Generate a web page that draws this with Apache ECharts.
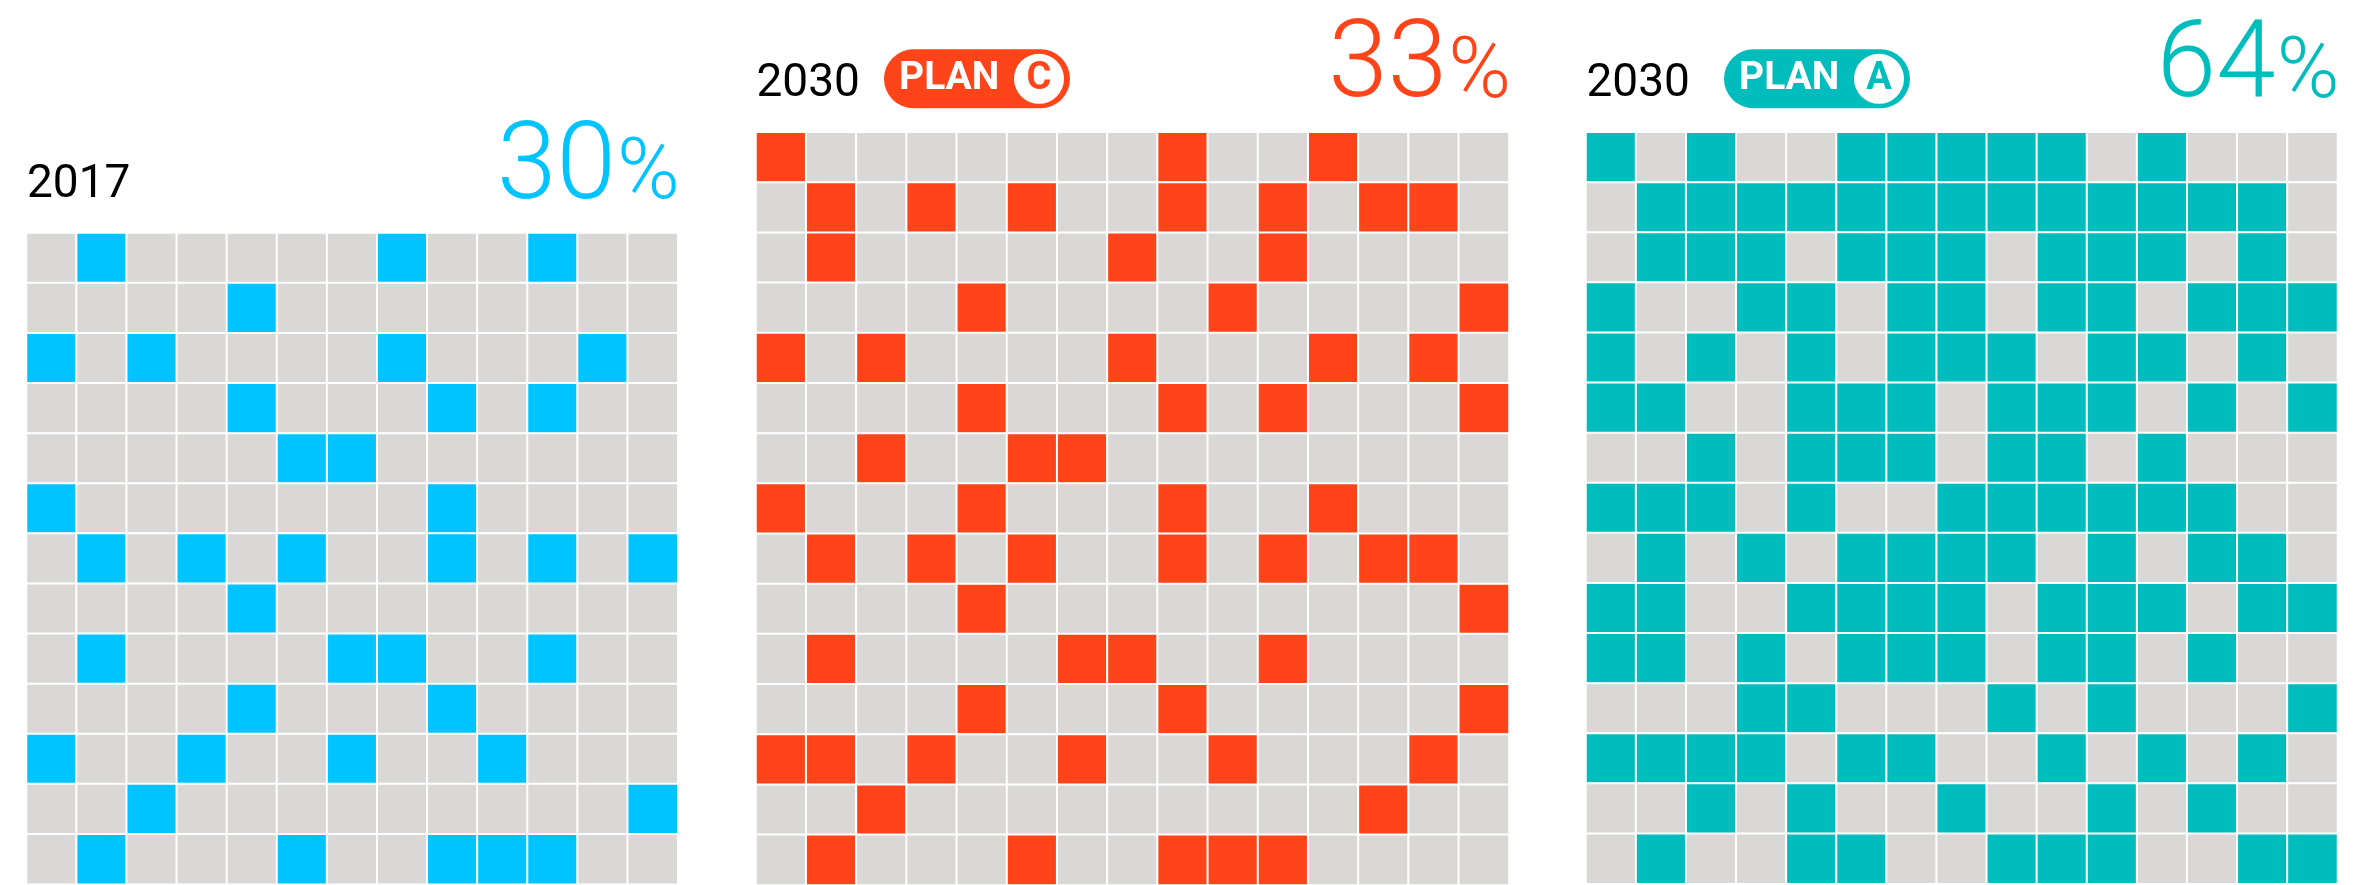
<!DOCTYPE html>
<html>
<head>
<meta charset="utf-8">
<title>Share of filled cells, 2017 vs 2030 plans</title>
<style>
  html, body { margin: 0; padding: 0; background: #ffffff; }
  #chart { width: 2361px; height: 885px; }
</style>
<script src="https://cdn.jsdelivr.net/npm/echarts@6/dist/echarts.min.js"></script>
</head>
<body>
<div id="chart"></div>
<script>
// ---- data -------------------------------------------------------------
// Filled cells of each panel, one list of column indices per row (top row first)
const cells2017 = [
  [1, 7, 10], [4], [0, 2, 7, 11], [4, 8, 10], [5, 6], [0, 8],
  [1, 3, 5, 8, 10, 12], [4], [1, 6, 7, 10], [4, 8], [0, 3, 6, 9],
  [2, 12], [1, 5, 8, 9, 10]
];
const cellsPlanC = [
  [0, 8, 11], [1, 3, 5, 8, 10, 12, 13], [1, 7, 10], [4, 9, 14],
  [0, 2, 7, 11, 13], [4, 8, 10, 14], [2, 5, 6], [0, 4, 8, 11],
  [1, 3, 5, 8, 10, 12, 13], [4, 14], [1, 6, 7, 10], [4, 8, 14],
  [0, 1, 3, 6, 9, 13], [2, 12], [1, 5, 8, 9, 10]
];
const cellsPlanA = [
  [0, 2, 5, 6, 7, 8, 9, 11],
  [1, 2, 3, 4, 5, 6, 7, 8, 9, 10, 11, 12, 13],
  [1, 2, 3, 5, 6, 7, 9, 10, 11, 13],
  [0, 3, 4, 6, 7, 9, 10, 12, 13, 14],
  [0, 2, 4, 6, 7, 8, 10, 11, 13],
  [0, 1, 4, 5, 6, 8, 9, 10, 12, 14],
  [2, 4, 5, 6, 8, 9, 11],
  [0, 1, 2, 4, 7, 8, 9, 10, 11, 12],
  [1, 3, 5, 6, 7, 8, 10, 12, 13],
  [0, 1, 4, 5, 6, 7, 9, 10, 11, 13, 14],
  [0, 1, 3, 5, 6, 7, 9, 10, 12],
  [3, 4, 8, 10, 14],
  [0, 1, 2, 3, 5, 6, 9, 11, 13],
  [2, 4, 7, 10, 12],
  [1, 4, 5, 8, 9, 10, 13, 14]
];
const columnCounts = [13, 15, 15];
const yearLabels = ['2017', '2030', '2030'];
const planLetters = [null, 'C', 'A'];
const planWord = 'PLAN';
const shareLabels = ['30', '33', '64'];
const percentSign = '%';

// ---- layout & styles --------------------------------------------------
const GRAY = '#D9D8D6';
const panels = [
  { cells: cells2017, color: '#00C4FF', left: 26.5, top: 233, pitch: 50.1, baseline: 199.5, pillLeft: null },
  { cells: cellsPlanC, color: '#FF441A', left: 756, top: 132.3, pitch: 50.2, baseline: 97.8, pillLeft: 884 },
  { cells: cellsPlanA, color: '#00BDBD', left: 1586, top: 132.3, pitch: 50.1, baseline: 97.8, pillLeft: 1724 }
];
const FONT = 'Roboto, "Open Sans", "DejaVu Sans", sans-serif';

function buildMatrix(rows, nCols) {
  const out = [];
  rows.forEach(function (filled, r) {
    for (let c = 0; c < nCols; c++) {
      out.push([c, r, filled.indexOf(c) >= 0 ? 1 : 0]);
    }
  });
  return out;
}

const grids = [], xAxes = [], yAxes = [], series = [], visualMaps = [], graphics = [];

panels.forEach(function (p, i) {
  const nCols = columnCounts[i];
  const nRows = p.cells.length;
  const w = nCols * p.pitch;
  const h = nRows * p.pitch;
  grids.push({ left: p.left, top: p.top, width: w, height: h, containLabel: false });
  xAxes.push({
    type: 'category', gridIndex: i, show: false,
    data: Array.from({ length: nCols }, function (_, k) { return String(k); })
  });
  yAxes.push({
    type: 'category', gridIndex: i, show: false, inverse: true,
    data: Array.from({ length: nRows }, function (_, k) { return String(k); })
  });
  series.push({
    type: 'heatmap', xAxisIndex: i, yAxisIndex: i,
    data: buildMatrix(p.cells, nCols),
    itemStyle: { borderColor: '#ffffff', borderWidth: 2 },
    emphasis: { disabled: true },
    silent: true,
    animation: false
  });
  visualMaps.push({
    type: 'piecewise', show: false, seriesIndex: i, dimension: 2,
    pieces: [{ value: 0, color: GRAY }, { value: 1, color: p.color }]
  });

  const right = p.left + w;
  const b = p.baseline;

  // year label
  graphics.push({
    type: 'text', x: p.left + 0.5, y: b - 13.6,
    style: { text: yearLabels[i], font: '400 46px ' + FONT, fill: '#000000', align: 'left', verticalAlign: 'middle' }
  });

  // big share figure with a smaller percent sign
  graphics.push({
    type: 'text', x: right - 62, y: b - 28.5,
    style: { text: shareLabels[i], font: '300 107px ' + FONT, fill: p.color, align: 'right', verticalAlign: 'middle' }
  });
  graphics.push({
    type: 'text', x: right + 2, y: b - 22.5,
    style: { text: percentSign, font: '300 85px ' + FONT, fill: p.color, align: 'right', verticalAlign: 'middle' }
  });

  // plan badge
  if (p.pillLeft !== null) {
    const cy = b - 19;
    const pillW = 186, pillH = 59;
    graphics.push({
      type: 'rect',
      shape: { x: p.pillLeft, y: cy - pillH / 2, width: pillW, height: pillH, r: pillH / 2 },
      style: { fill: p.color }
    });
    graphics.push({
      type: 'text', x: p.pillLeft + 15, y: cy + 0.5,
      style: { text: planWord, font: '700 39px ' + FONT, fill: '#ffffff', align: 'left', verticalAlign: 'middle' }
    });
    const ccx = p.pillLeft + pillW - 31;
    graphics.push({
      type: 'circle', shape: { cx: ccx, cy: cy, r: 25 },
      style: { fill: '#ffffff' }
    });
    graphics.push({
      type: 'text', x: ccx, y: cy + 1,
      style: { text: planLetters[i], font: '700 38px ' + FONT, fill: p.color, align: 'center', verticalAlign: 'middle' }
    });
  }
});

const chart = echarts.init(document.getElementById('chart'), null, { renderer: 'canvas' });
chart.setOption({
  animation: false,
  backgroundColor: '#ffffff',
  grid: grids,
  xAxis: xAxes,
  yAxis: yAxes,
  visualMap: visualMaps,
  series: series,
  graphic: graphics
});
</script>
</body>
</html>
